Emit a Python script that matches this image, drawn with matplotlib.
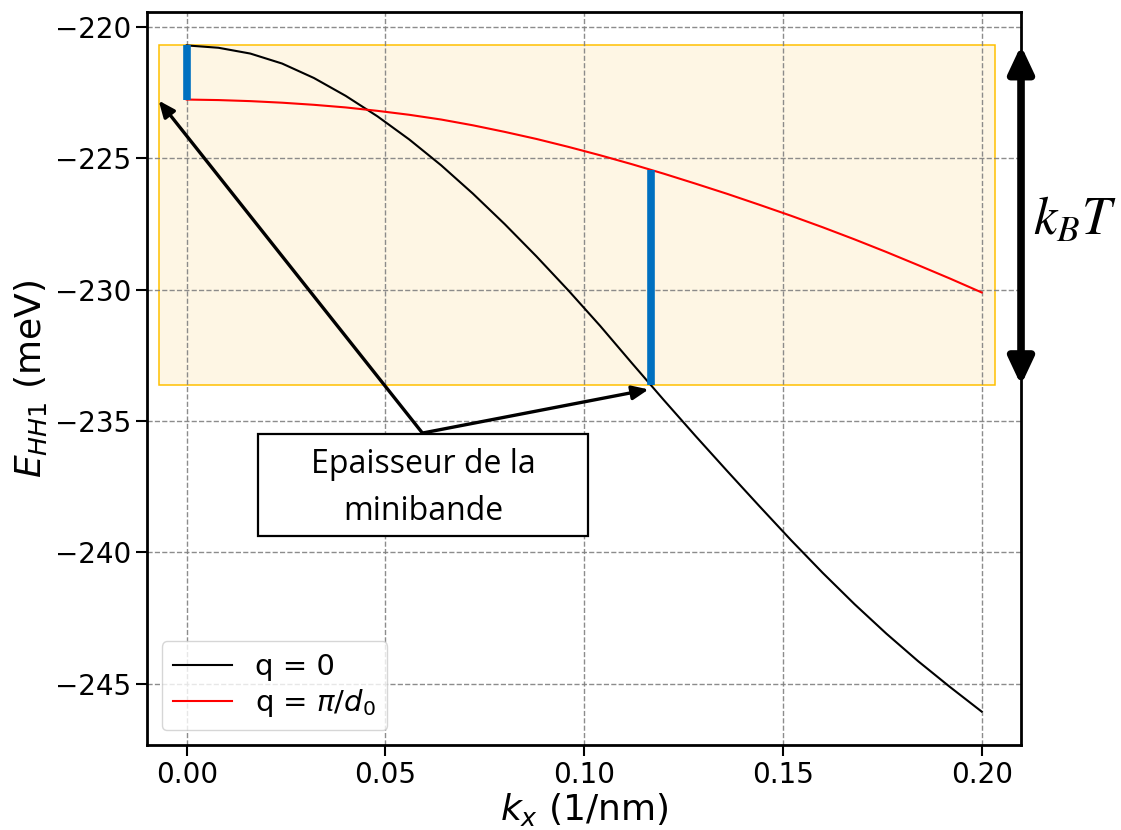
import numpy as np
import matplotlib
matplotlib.use("Agg")
import matplotlib.pyplot as plt
from matplotlib.patches import Rectangle, FancyArrowPatch
import matplotlib.transforms as mtransforms

# ---------------- data ----------------
k_x = [0.000, 0.008, 0.016, 0.024, 0.032, 0.040, 0.048, 0.056, 0.064, 0.072,
       0.080, 0.088, 0.096, 0.104, 0.112, 0.120, 0.128, 0.136, 0.144, 0.152,
       0.160, 0.168, 0.176, 0.184, 0.192, 0.200]

E_q0 = [-220.71, -220.80, -221.02, -221.40, -221.95, -222.63, -223.41, -224.29,
        -225.27, -226.35, -227.51, -228.74, -230.03, -231.38, -232.80, -234.20,
        -235.57, -236.91, -238.23, -239.53, -240.78, -241.97, -243.09, -244.14,
        -245.12, -246.06]

E_qpi = [-222.77, -222.79, -222.83, -222.89, -222.97, -223.07, -223.20, -223.35,
         -223.53, -223.75, -224.00, -224.27, -224.57, -224.89, -225.23, -225.59,
         -225.97, -226.36, -226.77, -227.19, -227.63, -228.09, -228.57, -229.07,
         -229.58, -230.11]

k_match = 0.1168         # k where the minibande width is read
labels = ["q = 0", r"q = $\pi/d_0$"]
xticks = [0.00, 0.05, 0.10, 0.15, 0.20]
yticks = [-245, -240, -235, -230, -225, -220]

# ---------------- figure ----------------
fig = plt.figure(figsize=(11.21, 8.3), dpi=100)
ax = fig.add_axes([0.1311, 0.1024, 0.7801, 0.8831])

ax.plot(k_x, E_q0, color="black", lw=1.5, label=labels[0], zorder=2)
ax.plot(k_x, E_qpi, color="red", lw=1.5, label=labels[1], zorder=2)

E0_top = E_q0[0]
E0_red = E_qpi[0]
Eb = float(np.interp(k_match, k_x, E_q0))
Er = float(np.interp(k_match, k_x, E_qpi))

# shaded kBT window
rect = Rectangle((-0.00705, Eb), 0.2105, E0_top - Eb, facecolor="#fef6e4",
                 edgecolor="#ffc000", lw=1.1, zorder=1)
ax.add_patch(rect)

# blue minibande widths
ax.plot([0, 0], [E0_top, E0_red], color="#0070c0", lw=5.5, solid_capstyle="butt", zorder=3)
ax.plot([k_match, k_match], [Er, Eb], color="#0070c0", lw=5.5, solid_capstyle="butt", zorder=3)

ax.set_xlim(-0.01, 0.21)
ax.set_ylim(-247.33, -219.44)
ax.set_xticks(xticks)
ax.set_yticks(yticks)
ax.xaxis.set_major_formatter(matplotlib.ticker.FormatStrFormatter("%.2f"))
ax.tick_params(labelsize=20, length=7.7, width=1.5)
for s in ax.spines.values():
    s.set_linewidth(2)
ax.grid(True, linestyle="--", color="gray", lw=1, alpha=0.9)

ax.set_xlabel(r"$k_x$ (1/nm)", fontsize=26, labelpad=2)
ax.set_ylabel(r"$E_{HH1}$ (meV)", fontsize=26, labelpad=4)

ax.legend(loc="lower left", fontsize=21, labelspacing=0.2)

# annotation box
ax.add_patch(Rectangle((0.01796, -239.39), 0.08304, 3.88, facecolor="white",
                       edgecolor="black", lw=1.6, zorder=5))
ax.text(0.0595, -237.56, "Epaisseur de la\nminibande", family="Open Sans",
        fontsize=23, ha="center", va="center", linespacing=1.55, zorder=6)

origin = (0.0593, -235.46)
for tip in [(-0.00705, -222.81), (0.1162, -233.8)]:
    ax.annotate("", xy=tip, xytext=origin,
                arrowprops=dict(arrowstyle="-|>,head_length=0.7,head_width=0.3",
                                lw=2.4, color="black", mutation_scale=14,
                                shrinkA=0, shrinkB=0), zorder=6)

# double arrow kBT on right spine
trans = mtransforms.blended_transform_factory(ax.transAxes, ax.transData)
arr = FancyArrowPatch((0.9995, Eb), (0.9995, E0_top), transform=trans,
                      arrowstyle="<|-|>,head_length=16,head_width=7.5",
                      mutation_scale=1, lw=5.5, color="black", clip_on=False,
                      shrinkA=0, shrinkB=0, zorder=7)
ax.add_patch(arr)

fig.text(0.959, 0.735, r"$k_BT$", fontsize=38, math_fontfamily="stix",
         ha="center", va="center")

fig.savefig("out.png", dpi=100)
